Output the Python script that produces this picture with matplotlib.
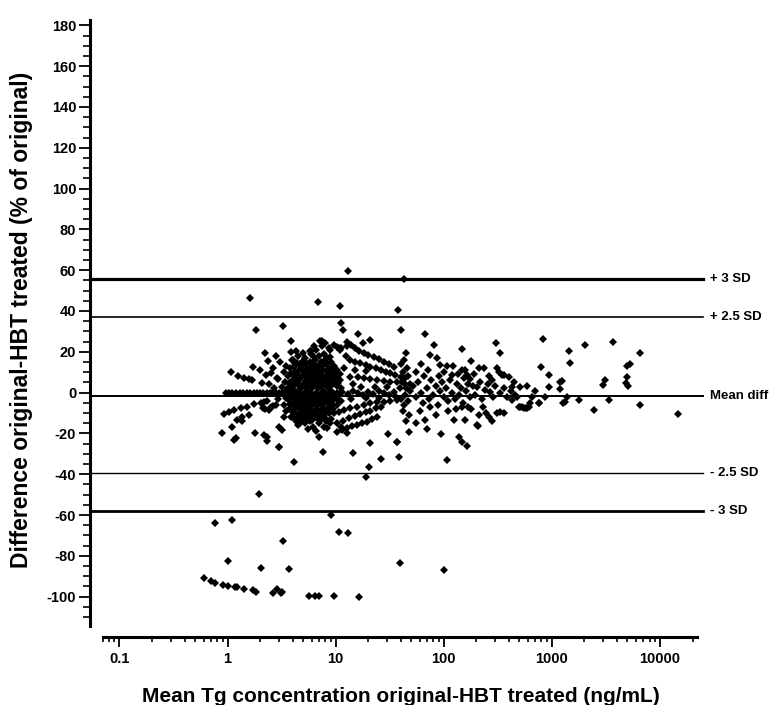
import matplotlib
matplotlib.use("Agg")
import matplotlib.pyplot as plt
import matplotlib.transforms as mtransforms
from matplotlib.ticker import LogLocator, MultipleLocator, NullFormatter, FixedLocator, FixedFormatter

plt.rcParams['font.family'] = ['Liberation Sans', 'DejaVu Sans']
plt.rcParams['font.weight'] = 'bold'
plt.rcParams['axes.unicode_minus'] = False

# (mean concentration ng/mL, difference %)
left_pts = [
    (1.61, 46.3), (1.85, 30.7), (3.24, 32.4), (2.2, 19.6), (3.83, 20.0), (3.9, 25.3),
    (1.07, 10.3), (1.25, 8.2), (1.43, 7.0), (1.57, 6.7), (1.73, 12.7), (1.99, 11.1),
    (2.29, 8.7), (2.64, 12.0), (2.5, 9.5), (1.69, 6.2), (2.09, 4.9), (2.41, 4.3),
    (2.68, 2.2), (2.88, 7.0), (3.2, 2.9), (2.92, 6.6), (3.3, 10.0), (3.05, 15.0),
    (3.4, 5.0), (2.35, 15.5), (2.8, 18.0), (3.5, 13.0),
    (0.96, -0.3), (1.03, 0.0), (1.1, -0.3), (1.2, 0.0), (1.3, -0.3), (1.4, 0.0),
    (1.5, -0.3), (1.63, 0.0), (1.75, -0.3), (1.87, 0.0), (2.0, -0.3), (2.15, 0.0),
    (2.3, -0.3), (2.45, 0.0), (2.6, -0.3), (2.8, 0.0), (3.0, -0.3), (3.2, 0.0), (3.4, 0.5),
    (0.92, -10.4), (1.03, -9.3), (1.14, -8.5), (1.32, -7.6), (1.52, -6.9), (1.75, -5.5),
    (2.02, -4.9), (2.33, -3.9), (2.17, -4.4), (1.23, -13.4), (1.37, -11.8), (1.57, -10.9),
    (2.14, -7.6), (2.41, -8.5), (2.64, -6.5), (2.24, -8.1), (2.5, -7.2), (2.78, -6.0),
    (0.89, -19.9), (1.1, -16.7), (1.14, -23.2), (1.19, -22.4), (1.81, -19.9), (2.17, -20.7),
    (2.33, -21.6), (2.98, -16.7), (3.2, -18.3), (2.98, -26.5), (3.31, -11.8), (1.37, -13.7),
    (2.33, -23.5), (2.9, -3.0), (3.3, -6.0), (3.5, -9.0), (3.45, -2.5),
]

core_pts = [
    (3.6, 2), (3.65, -3), (3.6, 8), (3.7, -8), (3.75, 0),
    (3.8, 12), (3.85, 5), (3.8, -1), (3.9, -5), (3.85, -12), (3.95, 1),
    (4.0, 16), (4.05, 9), (4.0, 3), (4.1, 0), (4.0, -2), (4.05, -6), (4.1, -10), (4.0, 6),
    (4.2, 14), (4.25, 7), (4.2, 1), (4.3, -4), (4.2, -8), (4.3, -14), (4.25, 10), (4.35, -1),
    (4.5, 18), (4.55, 11), (4.5, 4), (4.6, 0), (4.5, -3), (4.6, -7), (4.55, -12), (4.5, -16), (4.65, 2),
    (4.8, 13), (4.85, 8), (4.8, 2), (4.9, -1), (4.8, -5), (4.9, -9), (4.85, 15), (4.9, -13),
    (5.1, 10), (5.15, 5), (5.1, 0), (5.2, -2), (5.1, -6), (5.2, -11), (5.15, 17), (5.2, -15), (5.25, 3),
    (5.4, 12), (5.45, 6), (5.4, 1), (5.5, -3), (5.4, -8), (5.5, -13), (5.45, 9), (5.55, -1),
    (5.8, 15), (5.85, 9), (5.8, 4), (5.9, 0), (5.8, -4), (5.9, -9), (5.85, -14), (5.9, 19),
    (6.1, 11), (6.15, 6), (6.1, 2), (6.2, -2), (6.1, -6), (6.2, -11), (6.15, -17), (6.25, 14),
    (6.5, 16), (6.55, 10), (6.5, 4), (6.6, 0), (6.5, -3), (6.6, -8), (6.55, -12), (6.6, 21), (6.65, 7),
    (6.9, 13), (6.95, 7), (6.9, 2), (7.0, -1), (6.9, -5), (7.0, -10), (6.95, -15), (7.05, 18),
    (7.3, 15), (7.35, 9), (7.3, 3), (7.4, 0), (7.3, -4), (7.4, -8), (7.35, -13), (7.4, 23),
    (7.7, 11), (7.75, 6), (7.7, 1), (7.8, -2), (7.7, -6), (7.8, -11), (7.75, 19), (7.85, -17),
    (8.1, 14), (8.15, 8), (8.1, 3), (8.2, 0), (8.1, -3), (8.2, -9), (8.15, -14), (8.25, 17),
    (8.6, 12), (8.65, 6), (8.6, 2), (8.7, -1), (8.6, -5), (8.7, -10), (8.65, 22),
    (9.0, 10), (9.05, 5), (9.0, 1), (9.1, -2), (9.0, -7), (9.1, 15), (9.05, -13),
    (9.5, 9), (9.55, 4), (9.5, 0), (9.6, -3), (9.5, -8), (9.6, 13),
    (10.2, 7), (10.3, 3), (10.2, 0), (10.3, -2), (10.2, -6), (10.3, 11),
    (11.0, 6), (11.1, 2), (11.0, 0), (11.1, -4), (11.0, 9),
    (4.72, -15), (5.44, -11.8), (7.0, -21.6), (8.95, -15), (11.1, -16.7), (12.8, -19.9),
    (5.85, 20.4), (5.95, 20.4), (7.5, 25.5), (8.05, 24.5), (8.95, 20.9), (7.2, 25.3),
    (3.96, 16.0), (4.4, 14.4), (5.07, 14.4), (5.85, 14.7),
    # extra fill of the dense core
    (3.7, 4.5), (3.75, -5.5), (3.9, 9.5), (3.95, -9), (4.1, 12.5), (4.15, -12.5),
    (4.35, 4.5), (4.4, -6.5), (4.4, 9), (4.45, -10.5), (4.65, 14), (4.7, -3.5),
    (4.7, 6.5), (4.75, -11), (4.95, 11), (5.0, -7.5), (5.0, 3.5), (5.05, -3.5),
    (5.3, 14.5), (5.3, -5), (5.3, 7.5), (5.35, -10), (5.6, 10.5), (5.65, -6.5),
    (5.6, 2.5), (5.7, -11.5), (5.95, 12), (6.0, -2.5), (6.0, 6.5), (6.05, -13.5),
    (6.3, 17.5), (6.35, 8.5), (6.35, -4.5), (6.4, -9.5), (6.7, 12), (6.75, 3),
    (6.75, -6.5), (6.8, -13), (7.1, 10), (7.15, 5), (7.15, -2.5), (7.2, -11.5),
    (7.5, 13), (7.55, 7.5), (7.55, -1), (7.6, -8.5), (7.9, 16), (7.95, 4.5),
    (7.95, -4.5), (8.0, -12.5), (8.35, 10.5), (8.4, 5.5), (8.4, -2), (8.45, -7.5),
    (8.8, 8.5), (8.85, 3.5), (8.85, -3.5), (8.9, 17.5), (9.3, 6.5), (9.3, -5.5),
    (9.3, 11.5), (9.8, 5.5), (9.8, -1.5), (9.9, 9.5), (10.6, 4.5), (10.6, -3.5),
    (5.0, 19.5), (6.3, 23), (4.3, 20.5), (5.5, -18), (6.6, -19), (8.4, -17.5),
]

arc_pts = [
    (12.8, 25.0), (14.0, 23.5), (15.2, 21.8), (16.5, 20.5), (18.2, 19.3), (20.0, 18.5),
    (22.5, 17.6), (25.0, 16.3), (27.8, 15.2), (31.0, 14.0), (34.4, 12.7),
    (13.7, 16.0), (15.2, 15.2), (16.9, 14.4), (19.0, 13.5), (21.0, 12.7), (23.5, 11.9),
    (26.0, 11.1), (29.0, 10.3), (32.1, 9.5), (35.5, 8.6), (39.8, 7.8),
    (13.7, 7.8), (16.0, 7.4), (18.2, 7.0), (21.0, 6.6), (24.0, 6.2), (28.0, 5.8),
    (32.1, 5.4), (37.0, 5.0), (42.7, 4.6),
    (12.0, 12.0), (15.0, 11.0), (19.0, 10.5), (11.1, 21.8), (12.5, 18.0), (14.5, 4.0),
    (11.5, 0.5), (13.0, -0.5), (14.5, 1.0), (16.0, 0.0), (18.0, -1.0), (20.0, 0.5),
    (22.0, -0.5), (25.0, 1.0), (28.0, 0.0), (31.0, -1.0), (35.0, 0.5), (39.0, 2.0),
    (44.0, -1.0), (49.0, 1.0), (17.0, 2.5), (23.0, 2.5), (30.0, 2.5), (36.0, -2.0),
    (9.6, -10.1), (10.7, -9.3), (11.9, -8.5), (13.7, -7.7), (15.8, -6.9), (18.3, -6.0),
    (21.0, -5.2), (24.0, -4.8), (27.8, -4.4), (32.0, -4.0), (37.2, -3.6),
    (10.3, -15.0), (11.7, -13.7), (13.2, -12.5), (15.0, -11.4), (16.9, -10.4),
    (19.0, -9.6), (21.0, -8.8), (23.5, -7.8), (26.0, -6.9),
    (10.3, -19.1), (11.5, -18.3), (12.8, -17.5), (14.2, -16.6), (15.8, -15.8),
    (17.6, -15.0), (19.6, -14.2), (21.8, -13.0), (24.0, -11.8),
    (30.3, -20.4), (37.3, -24.0), (47.3, -19.4), (14.0, -3.0), (19.0, -2.5), (25.0, -2.5),
    (16.1, 28.8), (17.9, 24.5), (21.0, 25.8), (9.6, 23.4), (10.3, 22.3), (10.9, 20.9),
    (12.8, 22.9), (10.7, 21.8), (44.3, 19.3),
    (40.0, 14.0), (42.0, 10.0), (44.0, 7.0), (46.0, 12.0), (41.0, 5.0), (47.0, 8.0),
    (43.0, 16.0), (49.0, 4.0), (45.0, 2.0), (40.0, -3.0), (43.0, -6.0), (47.0, -4.0),
    (42.0, -9.0), (48.0, -11.0), (45.0, -14.0),
]

mid_pts = [
    (67.6, 28.6), (80.9, 23.4), (75.0, 18.5), (86.7, 17.0), (93.0, 13.6), (108.0, 13.1),
    (123.0, 13.1), (118.7, 8.7), (158.7, 11.1), (152.8, 7.0), (176.5, 6.6), (147.0, 21.4),
    (178.0, 15.7), (237.0, 12.0), (303.0, 24.2), (328.0, 19.6), (310.0, 12.0), (357.0, 8.7),
    (400.0, 7.8), (428.0, 2.9), (510.0, 2.9), (590.0, 3.3), (147.0, 11.1), (164.0, 8.7),
    (322.0, 10.3), (345.0, 8.7),
    (52, 3), (55, -2), (58, 5), (61, 0), (64, -5), (66, 8), (70, 2), (73, -3), (77, 6),
    (80, -1), (84, 3), (88, -6), (92, 1), (96, 5), (100, -2), (105, 2), (110, -4), (115, 6),
    (120, 0), (126, -3), (132, 4), (138, -1), (145, 2), (152, -5), (160, 1), (168, 4),
    (176, -2), (185, 3), (195, -1), (203, 2.9), (215, 5), (228, -3), (242, 1.3), (255, 4),
    (269, 0.5), (285, -2), (300, 3), (334, -0.3), (360, 2), (384, -2), (420, 1), (460, -1),
    (55, 10), (62, 14), (72, 11), (90, 8), (100, 10), (135, 9), (190, 9), (210, 12),
    (260, 8), (280, 6), (450, 5), (480, -2),
    (147, -6.9), (158.7, -13.4), (125, -13.4), (67.6, -13.4), (207, -16.2), (248, -10.1),
    (280, -13.7), (94.8, -20.4), (137, -21.6), (147, -24.0), (163, -26.1), (107.6, -33.0),
    (203, -15.8), (214, -10.9), (260, -11.8), (169, -6.9), (334, -9.3), (357, -10.1),
    (312, -10.1), (494, -6.9), (590, -7.4), (428, -3.6), (510, -6.9), (547, -7.6),
    (609, -6.9), (630, -5.2), (60, -9), (75, -7), (85, -11), (110, -9), (130, -8),
    (180, -8), (230, -7), (55, -15), (70, -18),
]

right_pts = [
    (822, 26.3), (796, 12.5), (949, 8.7), (944, 2.5), (1195, 5.4), (1195, 1.7),
    (1443, 20.6), (1480, 14.4), (2034, 23.4), (3129, 6.2), (2976, 3.8), (1776, -3.6),
    (2446, -8.5), (1318, -4.4), (768, -5.2), (868, -2.3), (3350, -3.6), (1239, 5.7),
    (1369, -2.0), (1273, -5.2), (6600, -6.0), (753, -4.9), (529, -7.2), (580, -7.6),
    (3700, 25.0), (6540, 19.3), (4930, 13.1), (5297, 14.1), (4990, 7.4), (4855, 4.6),
    (5100, 3.4), (14640, -10.6), (700, 1.0), (650, -2.0),
]

outlier_pts = [
    (12.9, 59.7), (42.7, 55.8), (6.9, 44.3), (10.9, 42.6), (37.8, 40.5), (11.2, 34.0),
    (11.7, 30.7), (40.3, 30.7), (19.1, -41.5), (1.96, -49.7), (9.07, -60.0), (0.76, -63.7),
    (1.1, -62.4), (10.7, -68.1), (12.9, -68.9), (3.24, -72.5), (1.0, -82.4), (2.03, -86.1),
    (3.74, -86.6), (39.7, -83.6), (100.0, -87.0),
    (0.61, -91.0), (0.71, -92.3), (0.77, -93.1), (0.91, -94.3), (1.0, -94.8), (1.16, -95.4),
    (1.23, -95.4), (1.41, -96.4), (1.71, -97.0), (1.85, -97.5), (2.62, -98.3), (2.87, -96.4),
    (3.09, -98.3), (3.2, -97.5), (5.72, -99.5), (6.5, -99.5), (6.98, -99.5), (9.74, -99.5),
    (16.3, -100.3),
    (7.66, -28.9), (14.5, -29.4), (20.6, -24.8), (37.2, -24.0), (26.0, -32.6), (38.3, -31.7),
    (20.2, -36.3), (2.98, -26.8), (4.1, -33.8),
]

sd_values = [55.7, 37.1, -1.6, -39.3, -58.0]
sd_labels = ['+ 3 SD', '+ 2.5 SD', 'Mean diff', '- 2.5 SD', '- 3 SD']
sd_widths = [2.3, 1.2, 1.4, 1.0, 2.0]

x_ticks = [0.1, 1, 10, 100, 1000, 10000]
x_ticklabels = ['0.1', '1', '10', '100', '1000', '10000']

all_pts = left_pts + core_pts + arc_pts + mid_pts + right_pts + outlier_pts
xs = [p[0] for p in all_pts]
ys = [p[1] for p in all_pts]

fig = plt.figure(figsize=(7.7, 7.05), dpi=100)
ax = fig.add_axes([102.7 / 770, 79 / 705, 594.3 / 770, 606 / 705])

ax.plot(xs, ys, linestyle='none', marker='D', markersize=4.0,
        markerfacecolor='black', markeredgewidth=0, color='black', zorder=3)

ax.set_xscale('log')
ax.set_xlim(0.07, 22000)
ax.set_ylim(-114.4, 182.6)

trans = mtransforms.blended_transform_factory(ax.transAxes, ax.transData)
for v, lab, lw in zip(sd_values, sd_labels, sd_widths):
    ax.plot([-0.0214, 1.010], [v, v], color='black', linewidth=lw,
            transform=trans, clip_on=False, zorder=2)
    ax.text(1.0215, v, lab, transform=trans, fontsize=9.5, fontweight='bold',
            va='center', ha='left')

ax.xaxis.set_major_locator(FixedLocator(x_ticks))
ax.xaxis.set_major_formatter(FixedFormatter(x_ticklabels))
ax.xaxis.set_minor_locator(LogLocator(base=10, subs=range(2, 10), numticks=20))
ax.xaxis.set_minor_formatter(NullFormatter())

ax.set_yticks(range(-100, 181, 20))
ax.yaxis.set_minor_locator(MultipleLocator(5))

for s in ['top', 'right']:
    ax.spines[s].set_visible(False)
ax.spines['left'].set_position(('outward', 9.1))
ax.spines['bottom'].set_position(('outward', 7.9))
ax.spines['left'].set_linewidth(2.2)
ax.spines['bottom'].set_linewidth(2.2)

ax.tick_params(axis='x', which='major', direction='out', length=7, width=1.3,
               pad=3.5, labelsize=10.5)
ax.tick_params(axis='x', which='minor', direction='out', length=3.5, width=1.2)
ax.tick_params(axis='y', which='major', direction='out', length=8, width=1.3,
               pad=2, labelsize=10.5)
ax.tick_params(axis='y', which='minor', direction='out', length=5, width=1.2)
for lbl in ax.get_xticklabels() + ax.get_yticklabels():
    lbl.set_fontweight('bold')

fig.text(401 / 770, 3 / 705, 'Mean Tg concentration original-HBT treated (ng/mL)',
         ha='center', va='baseline', fontsize=15, fontweight='bold')
fig.text(22 / 770, 1 - 320 / 705, 'Difference original-HBT treated (% of original)',
         ha='center', va='center', rotation=90, fontsize=16.5, fontweight='bold')

fig.savefig('out.png', dpi=100)
